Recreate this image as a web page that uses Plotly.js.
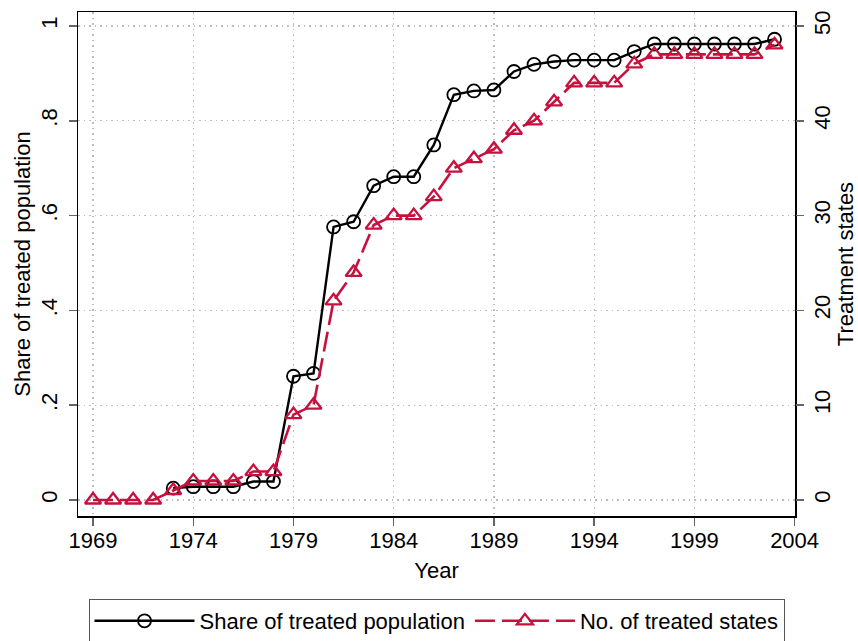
<!DOCTYPE html>
<html>
<head>
<meta charset="utf-8">
<script src="https://cdn.plot.ly/plotly-3.0.1.min.js"></script>
<style>
html,body{margin:0;padding:0;background:#fff;}
#chart{width:858px;height:641px;}
</style>
</head>
<body>
<div id="chart"></div>
<script>
// ---- data ----
const years = [1969,1970,1971,1972,1973,1974,1975,1976,1977,1978,1979,1980,1981,1982,1983,1984,1985,1986,
               1987,1988,1989,1990,1991,1992,1993,1994,1995,1996,1997,1998,1999,2000,2001,2002,2003];
const shareTreated = [null,null,null,null,0.025,0.028,0.028,0.028,0.039,0.039,0.261,0.267,0.576,0.587,0.663,0.682,0.682,0.749,
                      0.855,0.863,0.865,0.904,0.919,0.925,0.928,0.928,0.928,0.946,0.962,0.962,0.962,0.962,0.962,0.962,0.972];
const treatedStates = [0,0,0,0,1,2,2,2,3,3,9,10,21,24,29,30,30,32,
                       35,36,37,39,40,42,44,44,44,46,47,47,47,47,47,47,48];
const xTicks = [1969,1974,1979,1984,1989,1994,1999,2004];
const yTicks = [0,0.2,0.4,0.6,0.8,1];
const yTickText = ["0",".2",".4",".6",".8","1"];
const y2Ticks = [0,10,20,30,40,50];

const RED = '#c8103e';
const FONT = 'Liberation Sans, Arial, sans-serif';
const FS = 22;

const traces = [
  {
    x: years, y: shareTreated, type: 'scatter', mode: 'lines+markers',
    name: 'Share of treated population', yaxis: 'y',
    line: {color: '#000', width: 2.4},
    marker: {symbol: 'circle', size: 13, color: 'rgba(255,255,255,0)', line: {color: '#000', width: 1.8}},
    connectgaps: false
  },
  {
    x: years, y: treatedStates, type: 'scatter', mode: 'lines+markers',
    name: 'No. of treated states', yaxis: 'y2',
    line: {color: RED, width: 2.6, dash: '20px,7px'},
    marker: {symbol: 'triangle-up', size: 14, color: 'rgba(255,255,255,0)', line: {color: RED, width: 2.3}}
  }
];

const gridStyle = {showgrid: true, gridcolor: '#bdbdbd', gridwidth: 1.2, griddash: '1.5px,4px'};

const layout = {
  width: 858, height: 641,
  margin: {l: 78, r: 63, t: 12, b: 125, pad: 0, autoexpand: false},
  paper_bgcolor: '#fff', plot_bgcolor: '#fff',
  font: {family: FONT, size: FS, color: '#000'},
  showlegend: true,
  legend: {
    orientation: 'h', x: 0.5, xanchor: 'center', y: -0.1647, yanchor: 'top',
    bordercolor: '#555', borderwidth: 1, font: {family: FONT, size: FS, color: '#000'},
    itemwidth: 100
  },
  xaxis: Object.assign({
    range: [1968.25, 2004.02], tickmode: 'array', tickvals: xTicks,
    ticks: 'outside', ticklen: 8, tickwidth: 1.5, tickcolor: '#666', ticklabelstandoff: -4,
    showline: true, linecolor: '#000', linewidth: 1.5, mirror: true,
    zeroline: false, title: {text: 'Year', font: {size: FS}, standoff: 10},
    tickfont: {size: FS}
  }, gridStyle),
  yaxis: Object.assign({
    range: [-0.0338, 1.0295], tickmode: 'array', tickvals: yTicks, ticktext: yTickText,
    tickangle: -90, ticks: 'outside', ticklen: 8, tickwidth: 1.5, tickcolor: '#666', ticklabelstandoff: 3,
    showline: true, linecolor: '#000', linewidth: 1.5, mirror: true,
    zeroline: false, title: {text: 'Share of treated population', font: {size: FS}, standoff: 0},
    tickfont: {size: FS}
  }, gridStyle),
  yaxis2: {
    overlaying: 'y', side: 'right', range: [-1.69, 51.475], tickmode: 'array', tickvals: y2Ticks,
    tickangle: -90, ticks: 'outside', ticklen: 8, tickwidth: 1.5, tickcolor: '#666',
    showline: false, showgrid: false, zeroline: false,
    title: {text: 'Treatment states', font: {size: FS}, standoff: 6},
    tickfont: {size: FS}
  }
};

Plotly.newPlot('chart', traces, layout, {displayModeBar: false, staticPlot: true});
</script>
</body>
</html>
